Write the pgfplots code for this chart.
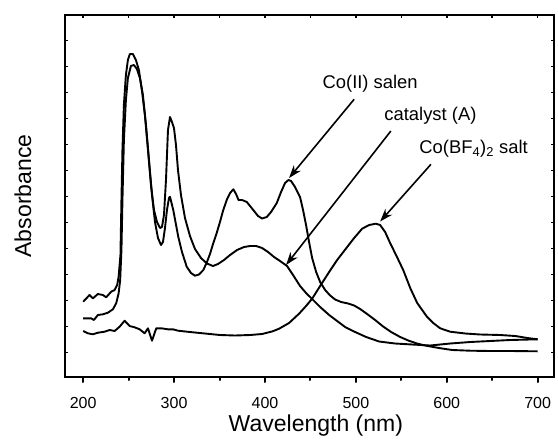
\documentclass[border=0pt]{standalone}
\usepackage{fontspec}
\setmainfont{Liberation Sans}
\usepackage{pgfplots}
\pgfplotsset{compat=1.18}
\usetikzlibrary{arrows.meta}
\begin{document}
\begin{tikzpicture}
\pgfplotsset{
  base/.style={scale only axis, width=489pt, height=362pt,
    xmin=180, xmax=718, ymin=0, ymax=362,
    clip=false},
}
\begin{axis}[base,
  tick align=outside,
  xtick={200,300,...,700}, minor xtick={250,350,...,650},
  xtick pos=left, ytick=\empty,
  major tick length=5pt, minor tick length=3pt,
  every tick/.style={line width=2pt, line cap=round, black},
  ticklabel style={font=\fontsize{16}{19}\selectfont},
  /pgf/number format/assume math mode=true,
  xticklabel style={yshift=-12pt},
  xlabel={Wavelength (nm)}, ylabel={Absorbance},
  xlabel style={font=\fontsize{23}{28}\selectfont, at={(axis description cs:0.513,-0.135)}, anchor=center},
  ylabel style={font=\fontsize{23}{28}\selectfont, at={(axis description cs:-0.086,0.5)}, anchor=center},
  cycle list={{black, line width=1.9pt, line join=round, mark=none}},
]
% catalyst (A)
\addplot[black, line width=1.9pt, line join=round, mark=none] coordinates {
(200,75.3)(207.0,82)(210.7,78.7)(216.2,83)(221.7,82)(225.3,79.7)(230.8,85.3)(234.6,87)(237.4,92)(239.0,100.3)
(241.0,122)(242.1,177)(243.2,227)(244.8,272)(247.0,302)(249.2,317)(251.4,323)(254.7,323)(258.0,317)(261.3,307)
(264.6,287)(267.9,262)(271.3,227)(274.6,192)(277.9,167)(281.2,155)(284.5,149)(286.7,150)(288.9,162)(291.1,197)
(293.3,247)(295.5,260)(297.7,255)(299.9,249)(302.1,232)(304.3,207)(307.6,182)(312.0,159)(317.5,141)(323.0,128)
(329.6,119)(336.2,113.5)(342.8,111)(348.3,113)(354.9,117)(361.6,122)(369.3,127)(377.0,130)(383.6,131)(390.2,131)
(396.8,129)(403.4,125)(410.0,120)(416.6,116)(424.3,111)(430.9,102)(438.6,91)(445.2,84)(451.9,78)(460.7,70)
(470.6,62)(479.4,56)(488.2,50)(499.2,45)(511.3,40)(525.6,35.5)(543.2,33.5)(562.0,32.5)(581.8,31.5)(592.8,32.5)
(603.8,33.5)(625.9,35)(647.9,36)(669.9,37)(700,37.7)
};
% Co(II) salen
\addplot[black, line width=1.9pt, line join=round, mark=none] coordinates {
(200,58.7)(208.8,58.7)(211.8,57)(216.2,62)(221.7,62.7)(227.2,64.3)(232.7,67.7)(236.3,73.7)(239.0,83.7)(240.7,97)
(242.1,127)(243.2,177)(244.8,237)(247.0,277)(249.2,299)(252.5,311)(255.8,312)(259.1,308)(262.4,299)(265.7,282)
(269.1,252)(272.4,217)(275.7,182)(279.0,155)(282.3,139)(285.6,132)(287.8,135)(290.0,149)(292.2,167)(294.4,179)
(295.5,180.3)(299.1,167)(304.6,140.3)(308.7,125)(313.9,110.3)(318.6,104)(323.0,101.3)(327.4,102.5)(332.2,107)
(336.2,115)(339.5,123)(343.2,134)(346.9,144)(350.5,155)(353.8,166)(357.9,177)(361.6,184)(365.2,187.7)(368.2,183)
(370.9,177)(374.8,177)(380.0,175)(383.6,171)(388.0,166)(392.4,161)(396.8,158.5)(402.0,160)(406.7,165)(413.0,174)
(417.7,185)(422.1,194)(425.8,197)(428.7,196)(433.1,190)(438.6,180)(441.9,167)(445.2,152)(448.5,135)(451.9,119)
(456.3,105)(460.7,95)(466.2,87)(471.7,81.5)(477.2,77.5)(483.8,75)(491.5,73.5)(498.1,71.5)(504.7,68)(512.4,63)
(521.2,57)(530.0,50.5)(538.8,45)(548.8,40)(557.6,36.5)(567.2,33.5)(576.3,31.5)(585.1,30)(595.0,28.5)(606.0,27)
(625.9,26.3)(647.9,26)(669.9,26)(700,25.7)
};
% Co(BF4)2 salt
\addplot[black, line width=1.9pt, line join=round, mark=none] coordinates {
(200,46)(205.2,43.7)(210.7,42.7)(216.2,44.3)(223.6,45.3)(229.1,47)(234.6,46)(240.1,50.3)(245.6,56.3)(251.1,51)
(256.6,49.7)(262.1,47.7)(267.6,43.7)(271.3,48.7)(275.7,36.3)(280.4,48.7)(285.9,48.7)(293.3,47.7)(298.8,47.7)
(304.3,46.3)(317.5,45)(334.0,43.5)(350.5,42)(367.1,41.5)(383.6,42)(396.8,43)(407.8,45.5)(415.5,48.3)(426.5,54)
(437.5,63.3)(445.2,71)(451.9,78.3)(460.7,91)(470.6,105)(479.4,117)(489.0,128.3)(498.1,139)(506.9,148.3)
(514.6,152)(522.0,153.3)(526.7,152)(532.2,145)(537.7,134)(545.1,120.3)(552.1,107)(559.8,89)(567.5,74)(578.2,60.3)
(585.1,54)(592.8,48.7)(603.8,45.3)(620.4,43.5)(636.9,42.5)(658.9,42)(675.4,41)(688.7,39)(700,37.7)
};
\draw[line width=1.6pt, -{Stealth[length=13pt,width=9pt]}] (axis cs:498.1,277.7) -- (axis cs:426.5,199);
\draw[line width=1.6pt, -{Stealth[length=13pt,width=9pt]}] (axis cs:538.5,246) -- (axis cs:423.2,112);
\draw[line width=1.6pt, -{Stealth[length=13pt,width=9pt]}] (axis cs:582.6,212.7) -- (axis cs:526.7,155.5);
\node[anchor=base west, inner sep=0pt, font=\fontsize{18.4}{22}\selectfont] at (axis cs:463.2,288.7) {Co(II) salen};
\node[anchor=base west, inner sep=0pt, font=\fontsize{18.4}{22}\selectfont] at (axis cs:531.2,257) {catalyst (A)};
\node[anchor=base west, inner sep=0pt, font=\fontsize{18.4}{22}\selectfont] at (axis cs:569.7,223.7) {Co(BF\textsubscript{4})\textsubscript{2} salt};
\end{axis}
\begin{axis}[base,
  tick align=inside,
  xtick={200,250,...,700}, xticklabels={}, xtick pos=right,
  ytick={24.5,50.5,...,340}, yticklabels={}, ytick pos=both,
  major tick length=3pt,
  every tick/.style={line width=1.5pt, black},
]
\end{axis}
\draw[line width=2.8pt, black] (current axis.south west) rectangle (current axis.north east);
\pgfresetboundingbox
\path ([shift={(-65pt,-68pt)}]current axis.south west) rectangle ([shift={(4pt,15pt)}]current axis.north east);
\end{tikzpicture}
\end{document}
